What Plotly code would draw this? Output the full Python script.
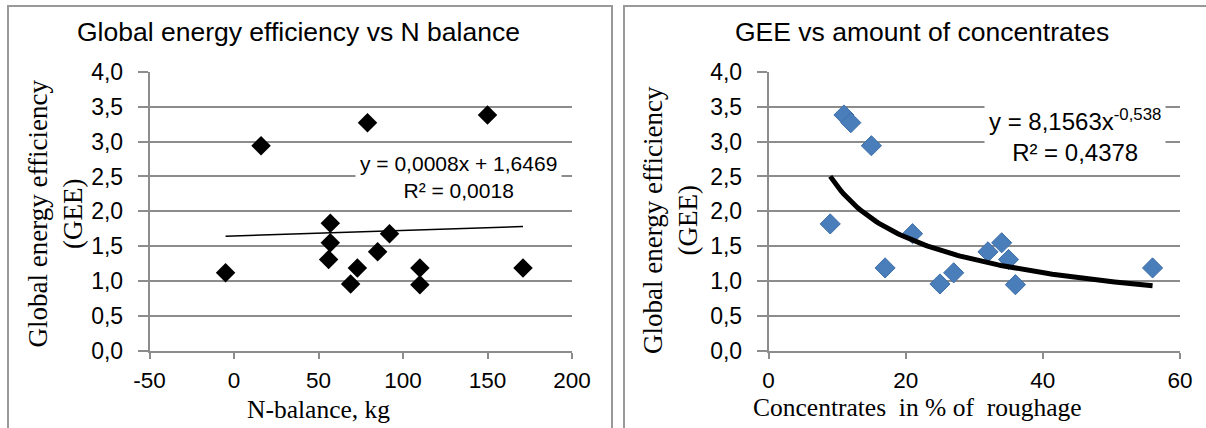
import numpy as np
import plotly.graph_objects as go

W, H = 1206, 428

# ---------------- data ----------------
n_balance = [-5, 16, 79, 150, 57, 57, 56, 92, 85, 73, 69, 110, 110, 171]
gee_left = [1.12, 2.94, 3.27, 3.38, 1.83, 1.55, 1.31, 1.68, 1.42, 1.19, 0.96, 1.19, 0.95, 1.19]

concentrates = [9, 11, 12, 15, 17, 21, 25, 27, 32, 34, 35, 36, 56]
gee_right = [1.82, 3.38, 3.27, 2.94, 1.19, 1.68, 0.96, 1.12, 1.42, 1.55, 1.31, 0.95, 1.19]

lin_slope, lin_intercept = 0.0008, 1.6469
pow_coef, pow_exp = 8.1563, -0.538

x_ticks_left = [-50, 0, 50, 100, 150, 200]
x_ticks_right = [0, 20, 40, 60]
y_ticks = [0, 0.5, 1, 1.5, 2, 2.5, 3, 3.5, 4]
y_tick_labels = ["0,0", "0,5", "1,0", "1,5", "2,0", "2,5", "3,0", "3,5", "4,0"]

title_left = "Global energy efficiency vs N balance"
title_right = "GEE vs amount of concentrates"
xlabel_left = "N-balance, kg"
xlabel_right = "Concentrates  in % of  roughage"
ylabel = "Global energy efficiency<br>(GEE)"
eq_left = "y = 0,0008x + 1,6469<br>R² = 0,0018"
eq_right = "y = 8,1563x<sup>-0,538</sup><br>R² = 0,4378"

# ---------------- helpers ----------------
def px(x):
    return x / W

def py(y):
    return 1 - y / H

GRID = "#8c8c8c"
SANS = "Liberation Sans"
SERIF = "Liberation Serif"

fig = go.Figure()

lx = np.array([min(n_balance), max(n_balance)], dtype=float)
fig.add_trace(go.Scatter(x=lx, y=lin_slope * lx + lin_intercept, mode="lines",
                         line=dict(color="black", width=1.5), xaxis="x", yaxis="y",
                         showlegend=False, hoverinfo="skip"))
fig.add_trace(go.Scatter(x=n_balance, y=gee_left, mode="markers",
                         marker=dict(symbol="diamond", size=15, color="black"),
                         xaxis="x", yaxis="y", showlegend=False))

fig.add_trace(go.Scatter(x=concentrates, y=gee_right, mode="markers",
                         marker=dict(symbol="diamond", size=15.5, color="#4a7ebb",
                                     line=dict(color="#3f6fa6", width=1)),
                         xaxis="x2", yaxis="y2", showlegend=False))
cx = np.linspace(min(concentrates), max(concentrates), 120)
fig.add_trace(go.Scatter(x=cx, y=pow_coef * cx ** pow_exp, mode="lines",
                         line=dict(color="black", width=5), xaxis="x2", yaxis="y2",
                         showlegend=False, hoverinfo="skip"))

ydom = [py(351), py(71.7)]
common_x = dict(showgrid=False, zeroline=False, showline=True, linecolor=GRID, linewidth=1.5,
                ticks="outside", ticklen=6, tickcolor=GRID, tickwidth=1.5, automargin=False,
                tickfont=dict(family=SANS, size=22.5, color="black"), tickmode="array",
                ticklabelstandoff=2)
common_y = dict(showgrid=True, gridcolor=GRID, gridwidth=1.5, zeroline=False, showline=True,
                linecolor=GRID, linewidth=1.5, ticks="outside", ticklen=10, tickcolor=GRID,
                tickwidth=1.5, tickfont=dict(family=SANS, size=23, color="black"),
                tickmode="array", tickvals=y_ticks, ticktext=y_tick_labels, range=[0, 4],
                domain=ydom, ticklabelstandoff=10, automargin=False)

fig.update_layout(
    width=W, height=H, margin=dict(l=0, r=0, t=0, b=0),
    paper_bgcolor="white", plot_bgcolor="white",
    xaxis=dict(common_x, domain=[px(149.5), px(572)], range=[-50, 200],
               tickvals=x_ticks_left, ticktext=[str(v) for v in x_ticks_left], anchor="y"),
    yaxis=dict(common_y, anchor="x"),
    xaxis2=dict(common_x, domain=[px(768.5), px(1180)], range=[0, 60],
                tickvals=x_ticks_right, ticktext=[str(v) for v in x_ticks_right], anchor="y2"),
    yaxis2=dict(common_y, anchor="x2"),
)

ann = []
ann.append(dict(text=title_left, x=px(298.5), y=py(32), font=dict(family=SANS, size=26.5, color="black")))
ann.append(dict(text=title_right, x=px(921.5), y=py(32), font=dict(family=SANS, size=26.5, color="black")))
ann.append(dict(text=xlabel_left, x=px(318), y=py(409), font=dict(family=SERIF, size=25.5, color="black")))
ann.append(dict(text=xlabel_right, x=px(917), y=py(407), font=dict(family=SERIF, size=25.5, color="black")))
ann.append(dict(text=ylabel, x=px(54.5), y=py(214), textangle=-90,
                font=dict(family=SERIF, size=27, color="black")))
ann.append(dict(text=ylabel, x=px(671), y=py(220), textangle=-90,
                font=dict(family=SERIF, size=27, color="black")))
ann.append(dict(text=eq_left, x=px(458), y=py(177.4), bgcolor="white", borderpad=4,
                font=dict(family=SANS, size=21, color="black")))
ann.append(dict(text=eq_right, x=px(1075), y=py(135), bgcolor="white", borderpad=4,
                font=dict(family=SANS, size=24, color="black")))
for a in ann:
    a.update(xref="paper", yref="paper", showarrow=False, xanchor="center", yanchor="middle")
fig.update_layout(annotations=ann)

BORDER = "#999999"
shapes = []
for (x0, x1) in [(8, 612), (624, 1220)]:
    shapes.append(dict(type="rect", xref="paper", yref="paper", x0=px(x0), x1=px(x1),
                       y0=py(460), y1=py(6), line=dict(color=BORDER, width=2),
                       fillcolor="rgba(0,0,0,0)", layer="below"))
fig.update_layout(shapes=shapes)

fig.write_html("out.html", config={"displayModeBar": False},
               post_script="document.body.style.margin='0';document.body.style.padding='0';"
                           "document.body.style.overflow='hidden';"
                           "document.documentElement.style.overflow='hidden';")
